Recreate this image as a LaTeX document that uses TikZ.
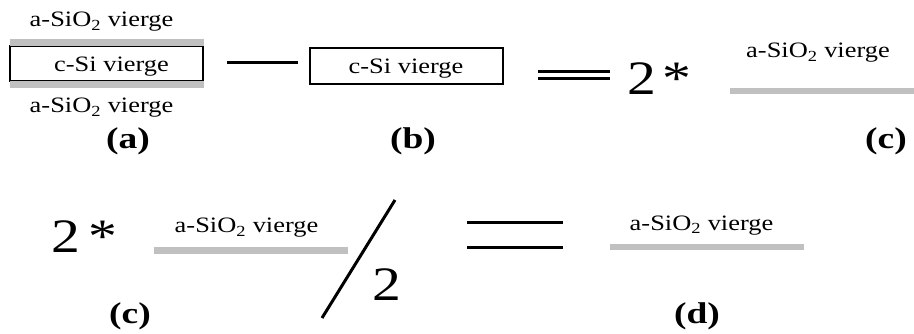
\documentclass[tikz,border=0pt]{standalone}
\usepackage{fontspec}
\usepackage{graphicx}
\setmainfont{Liberation Serif}
\newcommand{\hs}[1]{\scalebox{1.2}[1]{#1}}
\newcommand{\htag}[1]{\scalebox{1.25}[1]{#1}}
\newcommand{\sio}{\hs{a-SiO\textsubscript{2} vierge}}
\definecolor{oxgray}{RGB}{192,192,192}
\tikzset{
  lbl/.style={inner sep=0pt, anchor=base, font=\fontsize{22}{26}\selectfont},
  tag/.style={inner sep=0pt, anchor=base, font=\fontsize{30}{34}\selectfont\bfseries},
  big/.style={inner sep=0pt, anchor=base, font=\fontsize{48}{52}\selectfont},
  oxide/.style={draw=oxgray, line width=6.5pt},
  sibox/.style={draw=black, line width=1.4pt},
  opline/.style={line width=3pt, draw=black}
}
\begin{document}
\begin{tikzpicture}[x=1pt,y=-1pt]
\useasboundingbox (0,0) rectangle (914,334);
% (a)
\node[lbl] (atop) at (101.5,27) {\sio};
\draw[sibox] (10,46) rectangle (203,81);
\draw[oxide] (10,42.5) -- (204,42.5);
\draw[oxide] (10,84.5) -- (204,84.5);
\node[lbl] (asi) at (111.5,72) {\hs{c-Si vierge}};
\node[lbl] (abot) at (101.5,113) {\sio};
\node[tag] (la) at (128,149) {\htag{(a)}};
% minus
\coordinate (m1) at (227,63); \coordinate (m2) at (298,63);
\draw[opline] (m1) -- (m2);
% (b)
\draw[sibox] (310,48) rectangle (503,84);
\node[lbl] (bsi) at (406,74) {\hs{c-Si vierge}};
\node[tag] (lb) at (413,149) {\htag{(b)}};
% equals
\coordinate (e1) at (538,71.5); \coordinate (e2) at (610,71.5);
\coordinate (e3) at (538,79); \coordinate (e4) at (610,79);
\draw[opline] (e1) -- (e2); \draw[opline] (e3) -- (e4);
\node[big] (two1) at (642,95) {\hs{2}};
\node[big] (star1) at (677,95) {\hs{*}};
\node[lbl] (ctop) at (818,58) {\sio};
\draw[oxide] (730,91) -- (914,91);
\node[tag] (lc) at (886,149) {\htag{(c)}};
% second row
\node[big] (two2) at (66,253) {\hs{2}};
\node[big] (star2) at (102.5,253) {\hs{*}};
\node[lbl] (c2) at (246.5,233) {\sio};
\draw[oxide] (154,250.5) -- (348,250.5);
\coordinate (s1) at (395,200); \coordinate (s2) at (322,318);
\draw[opline] (s1) -- (s2);
\node[big] (two3) at (387,300) {\hs{2}};
\node[tag] (lc2) at (130,323) {\htag{(c)}};
\coordinate (f1) at (467,223); \coordinate (f2) at (563,223);
\coordinate (f3) at (467,248); \coordinate (f4) at (563,248);
\draw[opline] (f1) -- (f2); \draw[opline] (f3) -- (f4);
\node[lbl] (d1) at (701.5,230) {\sio};
\draw[oxide] (610,247) -- (804,247);
\node[tag] (ld) at (697,323) {\htag{(d)}};
\end{tikzpicture}
\end{document}
